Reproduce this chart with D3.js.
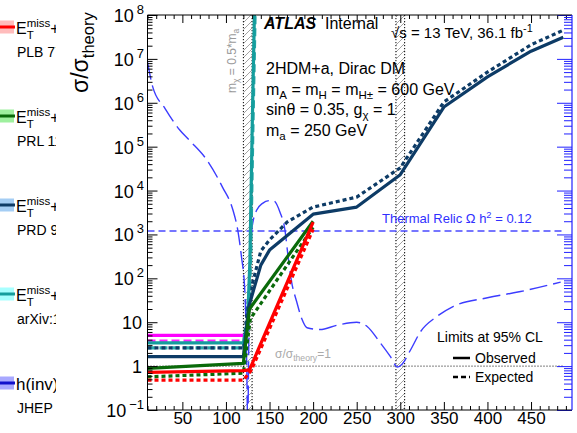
<!DOCTYPE html>
<html>
<head>
<meta charset="utf-8">
<script src="https://cdn.jsdelivr.net/npm/d3@7/dist/d3.min.js"></script>
<style>
  html, body { margin: 0; padding: 0; background: #fff; }
  svg text { font-family: "Liberation Sans", Arial, Helvetica, sans-serif; }
</style>
</head>
<body>
<svg id="chart" width="577" height="433"></svg>
<script>
// ---------------- data: m_chi [GeV] vs sigma / sigma_theory ----------------
const massRange = [10, 497];
const ratioRange = [0.1, 1e8];
const xMajorTicks = [50, 100, 150, 200, 250, 300, 350, 400, 450];
const xMinorTicks = d3.range(10, 497, 10).filter(v => v % 50 !== 0);
const yMajorTicks = [0.1, 1, 10, 1e2, 1e3, 1e4, 1e5, 1e6, 1e7, 1e8];
const yExponents = [-1, 0, 1, 2, 3, 4, 5, 6, 7, 8];

// E_T^miss + Z(ll)
const zllObs = [[10, 0.72], [120, 0.79], [127, 0.82], [200, 1900]];
const zllExp = [[10, 0.48], [120, 0.48], [129, 0.8], [200, 1300]];
// E_T^miss + h(bb)
const hbbObs = [[10, 0.89], [120, 1.16], [127, 20], [200, 2000]];
const hbbExp = [[10, 0.57], [120, 0.69], [128, 12], [200, 1450]];
// E_T^miss + h(gamma gamma)
const hggObs = [[10, 1.65], [120, 1.65], [126, 22], [140, 200], [150, 440], [200, 2900],
                [250, 4200], [300, 23000], [350, 8e5], [400, 3.9e6], [450, 1.5e7], [487, 3.1e7]];
const hggExp = [[10, 2.6], [120, 2.6], [126, 35], [140, 420], [150, 750], [170, 1900], [200, 4200],
                [250, 7100], [300, 33000], [350, 1.04e6], [400, 5e6], [450, 2.1e7], [487, 4.5e7]];
// E_T^miss + jet
const jetObs = [[10, 3.4], [120, 3.4], [125, 12], [127.5, 260], [130, 2e5], [132.8, 1.5e8]];
const jetExp = [[10, 2.6], [120, 2.6], [125.5, 10], [128.3, 260], [130.8, 2e5], [133.6, 1.5e8]];
// h(inv)
const hinvObs = [[10, 5.0], [120, 5.0]];
const hinvExp = [[10, 3.7], [120, 3.7]];

// relic-density curve
const relicCurve = [[10, 8.6e6], [16, 2.3e6], [30, 7.5e5], [47, 2.4e5], [58, 1.4e5], [78, 5e4], [96, 1.2e4],
  [108, 3600], [113.6, 1240], [117.8, 310], [121.6, 54], [123.5, 3], [125, 0.05], [126.2, 3], [127.5, 250],
  [129.4, 1200], [135, 3500], [142, 5100], [150, 5900], [155, 5800], [162, 3200], [167.7, 1250], [171, 350],
  [175, 90], [181, 30], [187, 12], [193, 7.5], [208, 6.8], [227, 8.5], [250, 10], [262, 8], [277, 3.4],
  [288.5, 1.67], [297, 0.95], [302, 1.1], [311.6, 2.3], [323, 6], [342, 13.5], [361, 23], [400, 36],
  [438, 50], [484, 82]];
const relicLevel = 1200;
const unityLevel = 1;
const levelRange = [10, 487];
const vetoBands = [[120, 130], [295, 305]];

// legend
const legendChannels = ["+Z(ℓℓ)", "+h(bb)", "+h(γγ)", "+jet"];
const legendRefs = ["PLB 776 (2018) 318", "PRL 119 (2017) 181804", "PRD 96 (2017) 112004",
                    "arXiv:1711.03301", "JHEP 11 (2015) 206"];
const legendLine = ["#ff0000", "#0a6a0a", "#0d3b66", "#159d9d", "#1010cc"];
const legendFill = ["#ffbcbc", "#9ef09e", "#a4cdf4", "#a8ffff", "#a8a8ff"];

// ---------------- layout ----------------
const svg = d3.select("#chart");
const x = d3.scaleLinear().domain(massRange).range([147.5, 572]);
const y = d3.scaleLog().domain(ratioRange).range([410, 15]);
const [X0, X1] = x.range();
const [Y0, Y1] = y.range();

const defs = svg.append("defs");
defs.append("clipPath").attr("id", "plotClip").append("rect")
  .attr("x", X0).attr("y", Y1).attr("width", X1 - X0).attr("height", Y0 - Y1);
defs.append("clipPath").attr("id", "legendClip").append("rect")
  .attr("x", 0).attr("y", 0).attr("width", 56).attr("height", 433);
const hatch = defs.append("pattern").attr("id", "hatch")
  .attr("patternUnits", "userSpaceOnUse").attr("width", 7).attr("height", 7);
hatch.append("path").attr("d", "M-1,1 l2,-2 M0,7 l7,-7 M6,8 l2,-2")
  .attr("stroke", "#8c8c8c").attr("stroke-width", 0.8);

// rich text helper: parts are strings or {t, m:'sup'|'sub'} or {sup, sub}
function rich(sel, parts, size) {
  let base = 0, pendDx = 0;
  parts.forEach(p => {
    if (typeof p === "string") p = { t: p };
    if (p.sup !== undefined) {
      const s = size * 0.72;
      const a = sel.append("tspan").attr("font-size", s)
        .attr("dy", -0.42 * size - base).attr("dx", pendDx).text(p.sup);
      const wa = a.node().getComputedTextLength();
      const b = sel.append("tspan").attr("font-size", s)
        .attr("dy", 0.72 * size).attr("dx", -wa).text(p.sub);
      const wb = b.node().getComputedTextLength();
      base = 0.3 * size;
      pendDx = Math.max(0, wa - wb);
      return;
    }
    const off = p.m === "sup" ? -0.38 * size : p.m === "sub" ? 0.26 * size : 0;
    const fs = p.m ? size * 0.72 : size;
    sel.append("tspan").attr("font-size", fs).attr("dy", off - base)
      .attr("dx", pendDx).text(p.t);
    pendDx = 0;
    base = off;
  });
  return sel;
}
function label(px, py, size, parts, opts = {}) {
  const t = svg.append("text").attr("x", px).attr("y", py).attr("font-size", size)
    .attr("fill", opts.fill || "#000");
  if (opts.anchor) t.attr("text-anchor", opts.anchor);
  if (opts.rotate) t.attr("transform", `rotate(${opts.rotate},${px},${py})`);
  if (opts.weight) t.attr("font-weight", opts.weight);
  if (opts.style) t.attr("font-style", opts.style);
  return rich(t, parts, size);
}

// ---------------- veto bands ----------------
const bands = svg.append("g");
vetoBands.forEach(([a, b]) => {
  bands.append("rect").attr("x", x(a)).attr("y", Y1).attr("width", x(b) - x(a))
    .attr("height", Y0 - Y1).attr("fill", "url(#hatch)");
  [a, b].forEach(v => bands.append("line").attr("x1", x(v)).attr("x2", x(v))
    .attr("y1", Y1).attr("y2", Y0).attr("stroke", "#000").attr("stroke-width", 1)
    .attr("stroke-dasharray", "1.2,1.8"));
});

// ---------------- curves ----------------
const plotG = svg.append("g").attr("clip-path", "url(#plotClip)");
const line = d3.line().x(d => x(d[0])).y(d => y(d[1]));
const smooth = d3.line().x(d => x(d[0])).y(d => y(d[1])).curve(d3.curveMonotoneX);

// reference levels
plotG.append("path").datum(levelRange.map(m => [m, unityLevel])).attr("d", line)
  .attr("fill", "none").attr("stroke", "#000").attr("stroke-width", 1).attr("stroke-dasharray", "1,2");
plotG.append("path").datum(levelRange.map(m => [m, relicLevel])).attr("d", line)
  .attr("fill", "none").attr("stroke", "#4a4aff").attr("stroke-width", 1.5).attr("stroke-dasharray", "7,4");
plotG.append("path").datum(relicCurve).attr("d", smooth)
  .attr("fill", "none").attr("stroke", "#3c3cff").attr("stroke-width", 1.4).attr("stroke-dasharray", "18,6");

const series = [
  { d: hinvExp, c: "#ff22ff", dash: "8,4" },
  { d: hinvObs, c: "#ff00ff" },
  { d: jetExp, c: "#2aa8a8", dash: "8,4" },
  { d: hggExp, c: "#0d3b66", dash: "4,3" },
  { d: jetObs, c: "#159d9d" },
  { d: hggObs, c: "#0d3b66" },
  { d: hbbExp, c: "#0a6a0a", dash: "4,3" },
  { d: hbbObs, c: "#0a6a0a" },
  { d: zllExp, c: "#ff0000", dash: "4,3" },
  { d: zllObs, c: "#ff0000" },
];
series.forEach(s => {
  plotG.append("path").datum(s.d).attr("d", line).attr("fill", "none")
    .attr("stroke", s.c).attr("stroke-width", 3.2)
    .attr("stroke-dasharray", s.dash || null).attr("stroke-linejoin", "round");
});

// ---------------- axes ----------------
function styleAxis(g, color) {
  g.select(".domain").remove();
  g.selectAll("line").attr("stroke", color);
  g.attr("font-family", null).attr("font-size", null);
}
svg.append("g").attr("transform", `translate(0,${Y0})`)
  .call(d3.axisBottom(x).tickValues(xMinorTicks).tickSize(-4).tickFormat(""))
  .call(g => styleAxis(g, "#000"));
svg.append("g").attr("transform", `translate(0,${Y0})`)
  .call(d3.axisBottom(x).tickValues(xMajorTicks).tickSize(-8).tickPadding(2))
  .call(g => styleAxis(g, "#000"))
  .call(g => g.selectAll("text").attr("font-size", 17).attr("fill", "#000"));
svg.append("g").attr("transform", `translate(0,${Y1})`)
  .call(d3.axisTop(x).tickValues(xMinorTicks).tickSize(-4).tickFormat(""))
  .call(g => styleAxis(g, "#000"));
svg.append("g").attr("transform", `translate(0,${Y1})`)
  .call(d3.axisTop(x).tickValues(xMajorTicks).tickSize(-8).tickFormat(""))
  .call(g => styleAxis(g, "#000"));

const yMinor = [];
yExponents.slice(0, -1).forEach(e => { for (let k = 2; k <= 9; k++) yMinor.push(k * Math.pow(10, e)); });
svg.append("g").attr("transform", `translate(${X0},0)`)
  .call(d3.axisLeft(y).tickValues(yMinor).tickSize(-5).tickFormat(""))
  .call(g => styleAxis(g, "#000"));
svg.append("g").attr("transform", `translate(${X0},0)`)
  .call(d3.axisLeft(y).tickValues(yMajorTicks).tickSize(-10).tickFormat(""))
  .call(g => styleAxis(g, "#000"));
// blue relic axis on the right
svg.append("g").attr("transform", `translate(${X1},0)`)
  .call(d3.axisRight(y).tickValues(yMinor).tickSize(-8).tickFormat(""))
  .call(g => styleAxis(g, "#2020ff"));
svg.append("g").attr("transform", `translate(${X1},0)`)
  .call(d3.axisRight(y).tickValues(yMajorTicks).tickSize(-15).tickFormat(""))
  .call(g => styleAxis(g, "#2020ff"));

// frame
svg.append("path").attr("d", `M${X1},${Y1} H${X0} V${Y0} H${X1}`)
  .attr("fill", "none").attr("stroke", "#000").attr("stroke-width", 1);
svg.append("line").attr("x1", X1).attr("x2", X1).attr("y1", Y1).attr("y2", Y0)
  .attr("stroke", "#2020ff").attr("stroke-width", 1.2);

// y tick labels: mantissa and exponent as separate texts
const yLab = svg.append("g");
yMajorTicks.forEach((v, i) => {
  const e = yExponents[i];
  const by = y(v) + 7;
  if (e === 0 || e === 1) {
    yLab.append("text").attr("x", 142).attr("y", by).attr("font-size", 18)
      .attr("text-anchor", "end").text(e === 0 ? "1" : "10");
    return;
  }
  const sup = yLab.append("text").attr("y", by - 8).attr("font-size", 13)
    .text(String(e).replace("-", "−"));
  const w = sup.node().getComputedTextLength();
  sup.attr("x", 144 - w);
  yLab.append("text").attr("x", 141 - w).attr("y", by).attr("font-size", 18)
    .attr("text-anchor", "end").text("10");
});

// axis title
label(88, 93, 23, ["σ/σ", { t: "theory", m: "sub" }], { rotate: -90 });

// ---------------- annotations ----------------
label(264, 29, 16, ["ATLAS"], { weight: "bold", style: "italic" });
label(325, 29, 16, ["Internal"]);
label(391, 38, 15, ["√s = 13 TeV, 36.1 fb", { t: "-1", m: "sup" }]);
label(266, 74, 16, ["2HDM+a, Dirac DM"]);
label(266, 95, 16, ["m", { t: "A", m: "sub" }, " = m", { t: "H", m: "sub" }, " = m", { t: "H±", m: "sub" }, " = 600 GeV"]);
label(266, 115, 16, ["sinθ = 0.35, g", { t: "χ", m: "sub" }, " = 1"]);
label(266, 136, 16, ["m", { t: "a", m: "sub" }, " = 250 GeV"]);
label(236, 93, 12, ["m", { t: "χ", m: "sub" }, " = 0.5*m", { t: "a", m: "sub" }], { rotate: -90, fill: "#9a9a9a" });
label(382, 223, 13, ["Thermal Relic Ω h", { t: "2", m: "sup" }, " = 0.12"], { fill: "#3030ff" });
label(275, 358, 12, ["σ/σ", { t: "theory", m: "sub" }, "=1"], { fill: "#aaaaaa" });

label(437, 342, 14, ["Limits at 95% CL"]);
svg.append("line").attr("x1", 453).attr("x2", 470).attr("y1", 358).attr("y2", 358)
  .attr("stroke", "#000").attr("stroke-width", 2.5);
label(475, 363, 14, ["Observed"]);
svg.append("line").attr("x1", 453).attr("x2", 470).attr("y1", 377).attr("y2", 377)
  .attr("stroke", "#000").attr("stroke-width", 2.5).attr("stroke-dasharray", "5,3");
label(475, 382, 14, ["Expected"]);

// ---------------- channel legend (left margin) ----------------
const leg = svg.append("g").attr("clip-path", "url(#legendClip)");
legendRefs.forEach((ref, i) => {
  const cy = 27 + 89 * i;
  leg.append("rect").attr("x", 0).attr("y", cy - 6.5).attr("width", 14).attr("height", 13)
    .attr("fill", legendFill[i]);
  leg.append("line").attr("x1", 0).attr("x2", 15).attr("y1", cy).attr("y2", cy)
    .attr("stroke", legendLine[i]).attr("stroke-width", 3);
  const t = leg.append("text").attr("x", 16).attr("y", 34 + 89 * i).attr("font-size", 16);
  if (i < 4) rich(t, ["E", { sup: "miss", sub: "T" }, legendChannels[i]], 16);
  else rich(t.attr("font-size", 17), ["h(inv)"], 17);
  leg.append("text").attr("x", 17).attr("y", 57 + 89 * i).attr("font-size", 14).text(ref);
});
</script>
</body>
</html>
